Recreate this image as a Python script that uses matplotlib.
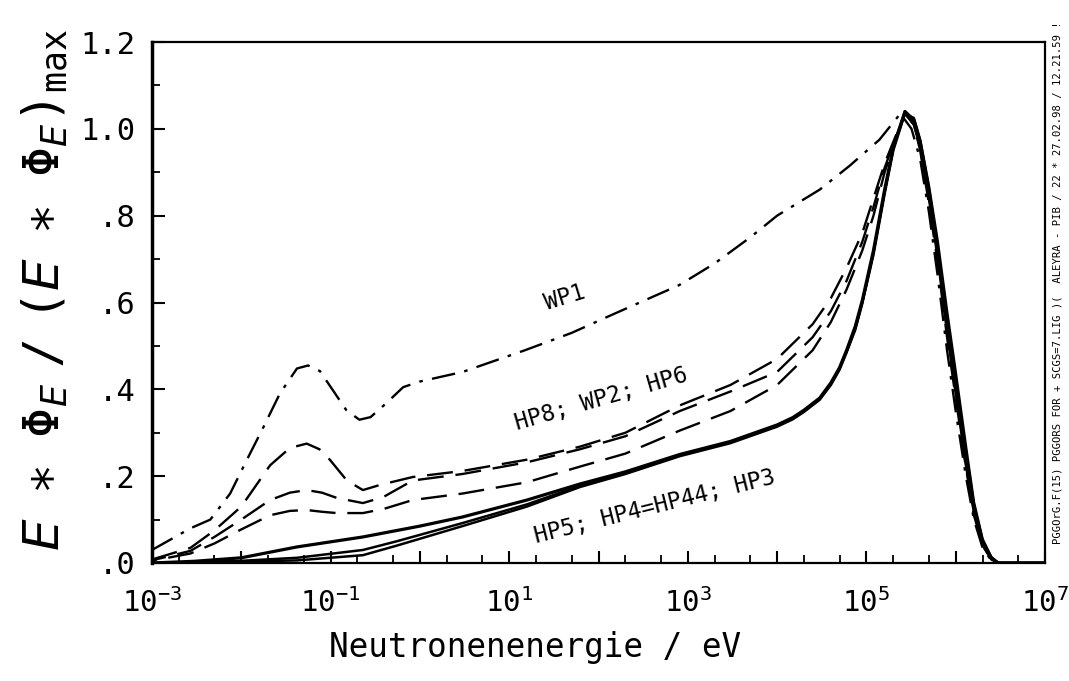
import math
import matplotlib
matplotlib.use("Agg")
import matplotlib.pyplot as plt
from matplotlib.ticker import FixedLocator, FuncFormatter, NullFormatter

plt.rcParams['mathtext.fontset'] = 'custom'
plt.rcParams['mathtext.rm'] = 'DejaVu Sans Mono'
plt.rcParams['mathtext.it'] = 'DejaVu Sans:italic'
plt.rcParams['mathtext.bf'] = 'DejaVu Sans:bold'

# ---------------- data ----------------
# WP1 (dash-dot)
wp1_E = [1e-3, 2.7e-3, 4.5e-3, 7.5e-3, 0.0115, 0.0177, 0.027, 0.042, 0.056, 0.076,
         0.106, 0.15, 0.21, 0.28, 0.42, 0.65, 1.0, 3.0, 15, 50, 150, 800, 2000, 5000,
         1e4, 3e4, 6.5e4, 1.4e5, 2.4e5, 3.2e5, 4e5, 5e5, 6.3e5, 8e5, 1e6,
         1.3e6, 1.6e6, 2e6, 2.5e6, 3e6, 1e7]
wp1_v = [0.03, 0.08, 0.10, 0.16, 0.237, 0.313, 0.39, 0.448, 0.455, 0.442,
         0.398, 0.352, 0.33, 0.336, 0.368, 0.405, 0.418, 0.44, 0.49, 0.53, 0.574, 0.64, 0.69, 0.75,
         0.80, 0.86, 0.915, 0.975, 1.035, 1.0, 0.93, 0.81, 0.66, 0.49, 0.35,
         0.20, 0.10, 0.035, 0.006, 0.0, 0.0]

# dashed curves: HP8, WP2, HP6
hp8_E = [1e-3, 2.7e-3, 5e-3, 0.01, 0.021, 0.035, 0.054, 0.075, 0.098, 0.152, 0.23, 0.36,
         0.83, 3.0, 15.8, 62, 200, 813, 3000, 1e4, 2.5e4, 4e4, 6e4, 9e4, 1.2e5, 1.6e5, 2e5,
         2.7e5, 3.4e5, 4e5, 5e5, 6.3e5, 8e5, 1e6, 1.3e6, 1.6e6, 2e6, 2.5e6, 3e6, 1e7]
hp8_v = [0.008, 0.035, 0.075, 0.13, 0.225, 0.265, 0.275, 0.262, 0.238, 0.19, 0.168, 0.18,
         0.198, 0.212, 0.238, 0.268, 0.30, 0.363, 0.41, 0.47, 0.55, 0.61, 0.68, 0.76, 0.84, 0.92, 0.97,
         1.035, 1.01, 0.95, 0.83, 0.69, 0.52, 0.38, 0.22, 0.11, 0.04, 0.008, 0.0, 0.0]

wp2_E = [1e-3, 2.7e-3, 5e-3, 0.01, 0.021, 0.035, 0.054, 0.08, 0.117, 0.23, 0.39,
         0.83, 3.0, 15.8, 62, 200, 813, 3000, 1e4, 2.5e4, 4e4, 6e4, 9e4, 1.2e5, 1.6e5, 2e5,
         2.7e5, 3.4e5, 4e5, 5e5, 6.3e5, 8e5, 1e6, 1.3e6, 1.6e6, 2e6, 2.5e6, 3e6, 1e7]
wp2_v = [0.006, 0.028, 0.06, 0.10, 0.145, 0.162, 0.168, 0.162, 0.15, 0.138, 0.152,
         0.19, 0.205, 0.232, 0.262, 0.292, 0.35, 0.395, 0.44, 0.52, 0.58, 0.65, 0.74, 0.82, 0.91, 0.965,
         1.035, 1.01, 0.955, 0.84, 0.70, 0.53, 0.39, 0.225, 0.115, 0.042, 0.009, 0.0, 0.0]

hp6_E = [1e-3, 2.7e-3, 5e-3, 0.0097, 0.021, 0.035, 0.054, 0.08, 0.117, 0.23, 0.4,
         0.83, 3.0, 15.8, 62, 200, 813, 3000, 1e4, 2.5e4, 4e4, 6e4, 9e4, 1.2e5, 1.6e5, 2e5,
         2.7e5, 3.4e5, 4e5, 5e5, 6.3e5, 8e5, 1e6, 1.3e6, 1.6e6, 2e6, 2.5e6, 3e6, 1e7]
hp6_v = [0.005, 0.022, 0.045, 0.076, 0.11, 0.12, 0.122, 0.118, 0.115, 0.115, 0.125,
         0.145, 0.16, 0.186, 0.222, 0.252, 0.305, 0.35, 0.41, 0.49, 0.555, 0.63, 0.72, 0.80, 0.90, 0.96,
         1.035, 1.01, 0.96, 0.85, 0.71, 0.54, 0.40, 0.23, 0.12, 0.045, 0.01, 0.0, 0.0]

# solid curves: HP5, HP4=HP44, HP3
hp5_E = [1e-3, 3e-3, 0.01, 0.042, 0.23, 1.0, 3.0, 15.8, 62, 200, 813, 3000, 1e4, 1.5e4,
         2e4, 3e4, 4e4, 5e4, 6e4, 7.5e4, 9e4, 1.2e5, 1.6e5, 2e5, 2.7e5, 3.4e5, 4e5, 5e5,
         6.3e5, 8e5, 1e6, 1.3e6, 1.6e6, 2e6, 2.5e6, 3e6, 1e7]
hp5_v = [0.0, 0.004, 0.012, 0.037, 0.06, 0.085, 0.106, 0.145, 0.182, 0.21, 0.25, 0.28, 0.318,
         0.335, 0.352, 0.38, 0.415, 0.45, 0.49, 0.545, 0.605, 0.72, 0.86, 0.957, 1.04, 1.02,
         0.97, 0.86, 0.72, 0.56, 0.42, 0.25, 0.13, 0.05, 0.012, 0.0, 0.0]

hp4_E = [1e-3, 3e-3, 0.01, 0.042, 0.23, 0.55, 3.0, 15.8, 62, 200, 813, 3000, 1e4, 1.5e4,
         2e4, 3e4, 4e4, 5e4, 6e4, 7.5e4, 9e4, 1.2e5, 1.6e5, 2e5, 2.7e5, 3.4e5, 4e5, 5e5,
         6.3e5, 8e5, 1e6, 1.3e6, 1.6e6, 2e6, 2.5e6, 3e6, 1e7]
hp4_v = [0.0, 0.002, 0.005, 0.012, 0.03, 0.05, 0.092, 0.135, 0.178, 0.207, 0.248, 0.278, 0.316,
         0.333, 0.35, 0.378, 0.412, 0.447, 0.487, 0.54, 0.60, 0.715, 0.855, 0.955, 1.04, 1.02,
         0.965, 0.85, 0.71, 0.55, 0.41, 0.24, 0.125, 0.048, 0.011, 0.0, 0.0]

hp3_E = [1e-3, 3e-3, 0.01, 0.042, 0.23, 0.55, 3.0, 15.8, 62, 200, 813, 3000, 1e4, 1.5e4,
         2e4, 3e4, 4e4, 5e4, 6e4, 7.5e4, 9e4, 1.2e5, 1.6e5, 2e5, 2.7e5, 3.4e5, 4e5, 5e5,
         6.3e5, 8e5, 1e6, 1.3e6, 1.6e6, 2e6, 2.5e6, 3e6, 1e7]
hp3_v = [0.0, 0.001, 0.003, 0.006, 0.018, 0.04, 0.085, 0.13, 0.175, 0.205, 0.246, 0.276, 0.314,
         0.331, 0.348, 0.376, 0.41, 0.445, 0.485, 0.537, 0.598, 0.71, 0.85, 0.95, 1.035, 1.025,
         0.975, 0.87, 0.74, 0.58, 0.44, 0.27, 0.14, 0.055, 0.014, 0.0, 0.0]

xtick_exps = [-3, -1, 1, 3, 5, 7]
ytick_vals = [0.0, 0.2, 0.4, 0.6, 0.8, 1.0, 1.2]
ytick_labels = ['.0', '.2', '.4', '.6', '.8', '1.0', '1.2']

curve_labels = ['WP1', 'HP8; WP2; HP6', 'HP5; HP4=HP44; HP3']

# ---------------- figure ----------------
fig = plt.figure(figsize=(10.69, 6.81), dpi=100)
ax = fig.add_axes([152 / 1069, 1 - 563 / 681, (1045 - 152) / 1069, (563 - 42) / 681])

lw = 1.7
ax.plot(wp1_E, wp1_v, color='black', lw=lw, linestyle=(0, (10, 4, 1.5, 4)))
ax.plot(hp8_E, hp8_v, color='black', lw=lw, linestyle=(0, (11, 5)))
ax.plot(wp2_E, wp2_v, color='black', lw=lw, linestyle=(5, (11, 5)))
ax.plot(hp6_E, hp6_v, color='black', lw=lw, linestyle=(9, (11, 5)))
ax.plot(hp5_E, hp5_v, color='black', lw=2.3)
ax.plot(hp4_E, hp4_v, color='black', lw=1.8)
ax.plot(hp3_E, hp3_v, color='black', lw=1.8)

ax.set_xscale('log')
ax.set_xlim(1e-3, 1e7)
ax.set_ylim(0, 1.2)

major_x = [10.0 ** e for e in range(-3, 8)]
minor_x = [m * 10.0 ** e for e in range(-3, 7) for m in (2, 5)]
ax.xaxis.set_major_locator(FixedLocator(major_x))
ax.xaxis.set_minor_locator(FixedLocator(minor_x))
ax.xaxis.set_minor_formatter(NullFormatter())


def xfmt(val, pos):
    e = int(round(math.log10(val)))
    if e in xtick_exps:
        return r'$\mathregular{10^{%d}}$' % e
    return ''


ax.xaxis.set_major_formatter(FuncFormatter(xfmt))
ax.yaxis.set_major_locator(FixedLocator(ytick_vals))
ax.yaxis.set_minor_locator(FixedLocator([0.1, 0.3, 0.5, 0.7, 0.9, 1.1]))
ax.set_yticklabels(ytick_labels)

ax.tick_params(axis='both', which='major', direction='in', length=9, width=1.5,
               top=False, right=False)
ax.tick_params(axis='both', which='minor', direction='in', length=6, width=1.3,
               top=False, right=False)
ax.tick_params(axis='x', which='major', pad=18, labelsize=21)
ax.tick_params(axis='y', which='major', pad=12, labelsize=22)
for lab in ax.get_xticklabels() + ax.get_yticklabels():
    lab.set_fontfamily('DejaVu Sans Mono')
for s in ax.spines.values():
    s.set_linewidth(1.6)
ax.spines['left'].set_linewidth(2.5)

# curve labels
lab_font = dict(fontfamily='DejaVu Sans Mono', fontsize=16.5, color='black',
                rotation_mode='anchor', ha='center', va='center')
ax.text(0.4625, 0.51, curve_labels[0], transform=ax.transAxes, rotation=17, **lab_font)
ax.text(0.503, 0.315, curve_labels[1], transform=ax.transAxes, rotation=16, **lab_font)
ax.text(0.563, 0.108, curve_labels[2], transform=ax.transAxes, rotation=14, **lab_font)

# axis labels
fig.text(535 / 1069, 1 - 648 / 681, 'Neutronenenergie / eV', fontfamily='DejaVu Sans Mono',
         fontsize=23.5, ha='center', va='center')
fig.text(45 / 1069, 1 - 290 / 681,
         r'$E\ \ast\ \mathit{\Phi}_E\ /\ (E\ \ast\ \mathit{\Phi}_E)_{\mathrm{max}}$',
         fontsize=36, rotation=90, ha='center', va='center')

fig.text(1057 / 1069, 1 - 283 / 681,
         'PGGOrG.F(15) PGGORS FOR + SCGS=7.LIG )(  ALEYRA - PIB / 22 * 27.02.98 / 12.21.59 !',
         fontfamily='DejaVu Sans Mono', fontsize=7.6, rotation=90, ha='center', va='center')

fig.savefig('out.png', dpi=100, facecolor='white')
